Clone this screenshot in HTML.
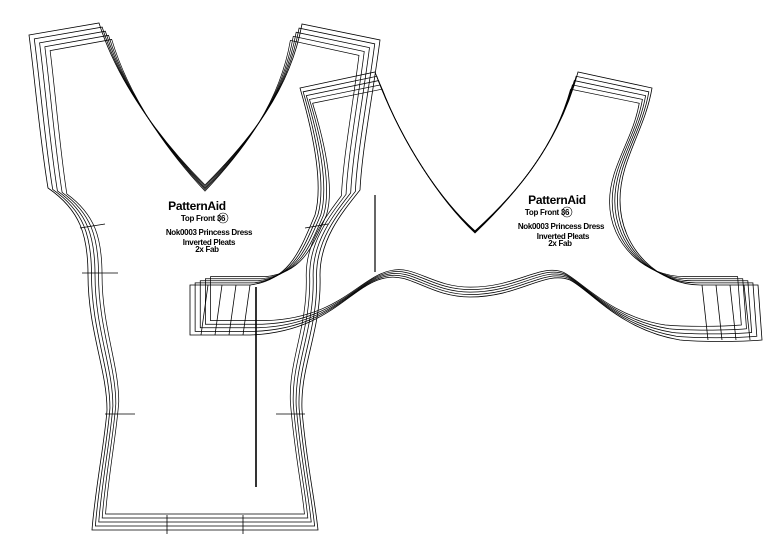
<!DOCTYPE html>
<html><head><meta charset="utf-8"><style>
html,body{margin:0;padding:0;background:#fff;}
svg{display:block;}
text{font-family:"Liberation Sans",sans-serif;fill:#000;text-anchor:middle;}
</style></head><body>
<svg width="778" height="541" viewBox="0 0 778 541" xmlns="http://www.w3.org/2000/svg">
<defs>
<path id="L" d="M29,35 L99,23 C120,90 170,150 205,185 C250,140 290,90 302,24 L380,40 C372,100 362,150 360,190 C340,215 320,240 320,275 C322,330 300,365 302,410 C306,460 315,500 318,530 L92,530 C95,490 105,440 107,410 C107,370 88,330 88,275 C88,235 80,210 48,188 C40,140 35,80 29,35 Z"/>
<path id="R" d="M300,88 L375,72 C400,140 440,200 475,233 C520,190 560,140 578,72 L652,88 C645,130 620,160 620,200 C620,250 660,285 700,285 L758,285 L762,340 C740,342 700,342 680,340 C620,330 590,290 570,280 C545,270 520,297 470,297 C430,297 410,272 385,278 C350,285 330,332 250,335 L190,335 L190,285 L250,285 C290,280 300,250 315,215 C322,190 318,150 300,88 Z"/>
</defs>
<g fill="none" stroke="#000" stroke-width="0.8">
<use href="#L"/>
<use href="#L" transform="translate(205,280) scale(0.97,0.984) translate(-205,-280)"/>
<use href="#L" transform="translate(205,280) scale(0.94,0.968) translate(-205,-280)"/>
<use href="#L" transform="translate(205,280) scale(0.91,0.952) translate(-205,-280)"/>
<use href="#L" transform="translate(205,280) scale(0.88,0.936) translate(-205,-280)"/>
</g>
<g fill="none" stroke="#000" stroke-width="0.8">
<use href="#R"/>
<use href="#R" transform="translate(475,215) scale(0.982,0.97) translate(-475,-215)"/>
<use href="#R" transform="translate(475,215) scale(0.964,0.94) translate(-475,-215)"/>
<use href="#R" transform="translate(475,215) scale(0.946,0.91) translate(-475,-215)"/>
<use href="#R" transform="translate(475,215) scale(0.928,0.88) translate(-475,-215)"/>
<path d="M208,285 L201,335 M222,285 L215,335 M236,285 L229,335 M250,285 L243,335"/>
<path d="M702,285 L708,340 M716,285 L722,340 M730,285 L736,340 M744,285 L750,340"/>
<path d="M82,273 L118,273 M105,414 L135,414 M276,414 L305,414 M167,515 L167,534 M243,515 L243,534"/>
<path d="M80,228 L105,224 M305,228 L328,224"/>
<circle cx="223" cy="218" r="5" stroke-width="0.6"/>
<circle cx="567" cy="212" r="5" stroke-width="0.6"/>
</g>
<line x1="256" y1="287" x2="256" y2="487" stroke="#000" stroke-width="1.6"/>
<line x1="375" y1="195" x2="375" y2="272" stroke="#000" stroke-width="1.2"/>
<g font-weight="bold" letter-spacing="-0.3">
<text x="197" y="210" font-size="12">PatternAid</text>
<text x="203" y="221" font-size="8">Top Front 36</text>
<text x="209" y="235" font-size="8">Nok0003 Princess Dress</text>
<text x="209" y="245" font-size="8">Inverted Pleats</text>
<text x="207" y="252" font-size="8">2x Fab</text>
<text x="557" y="204" font-size="12">PatternAid</text>
<text x="547" y="215" font-size="8">Top Front 36</text>
<text x="561" y="229" font-size="8">Nok0003 Princess Dress</text>
<text x="563" y="239" font-size="8">Inverted Pleats</text>
<text x="560" y="246" font-size="8">2x Fab</text>
</g>
</svg>
</body></html>
